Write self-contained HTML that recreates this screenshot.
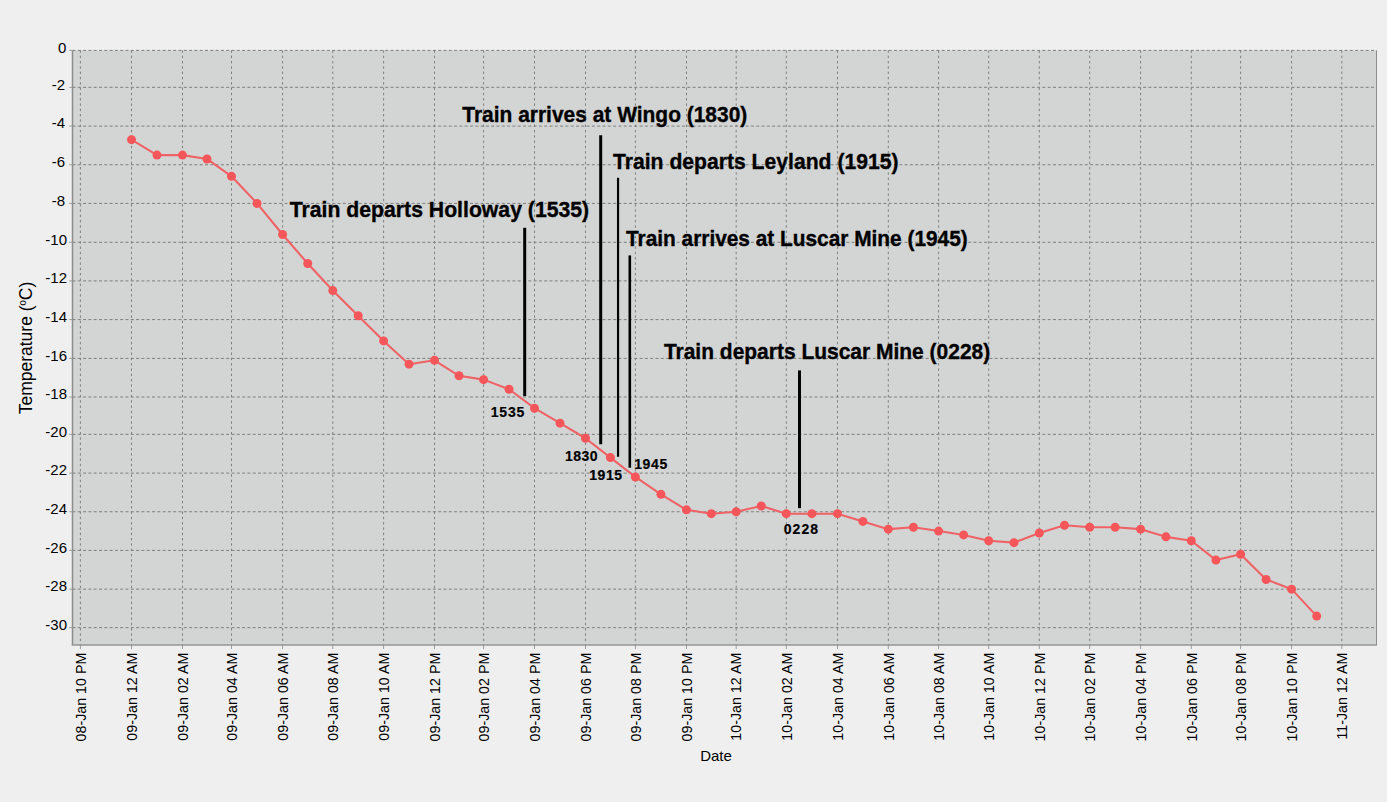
<!DOCTYPE html>
<html><head><meta charset="utf-8"><style>
html,body{margin:0;padding:0;background:#efefef;}
svg{display:block;}
text{font-family:"Liberation Sans",sans-serif;fill:#000;}
.yt{font-size:15px;}
.xt{font-size:14.25px;}
.ax{font-size:15px;}
.ay{font-size:17.5px;}
.tt{font-size:21.3px;font-weight:bold;stroke:#000;stroke-width:0.35px;}
.st{font-size:14px;font-weight:bold;stroke:#000;stroke-width:0.2px;}
</style></head><body>
<svg width="1387" height="802" viewBox="0 0 1387 802">
<rect x="0" y="0" width="1387" height="802" fill="#efefef"/>
<rect x="72.5" y="50.4" width="1304.0" height="594.6" fill="#d3d5d4"/>
<line x1="72.5" y1="50.40" x2="1376.5" y2="50.40" stroke="#7e7e7e" stroke-width="1" stroke-dasharray="3 2.3"/>
<line x1="72.5" y1="87.30" x2="1376.5" y2="87.30" stroke="#7e7e7e" stroke-width="1" stroke-dasharray="3 2.3"/>
<line x1="72.5" y1="126.10" x2="1376.5" y2="126.10" stroke="#7e7e7e" stroke-width="1" stroke-dasharray="3 2.3"/>
<line x1="72.5" y1="164.75" x2="1376.5" y2="164.75" stroke="#7e7e7e" stroke-width="1" stroke-dasharray="3 2.3"/>
<line x1="72.5" y1="203.40" x2="1376.5" y2="203.40" stroke="#7e7e7e" stroke-width="1" stroke-dasharray="3 2.3"/>
<line x1="72.5" y1="242.30" x2="1376.5" y2="242.30" stroke="#7e7e7e" stroke-width="1" stroke-dasharray="3 2.3"/>
<line x1="72.5" y1="280.90" x2="1376.5" y2="280.90" stroke="#7e7e7e" stroke-width="1" stroke-dasharray="3 2.3"/>
<line x1="72.5" y1="319.60" x2="1376.5" y2="319.60" stroke="#7e7e7e" stroke-width="1" stroke-dasharray="3 2.3"/>
<line x1="72.5" y1="358.40" x2="1376.5" y2="358.40" stroke="#7e7e7e" stroke-width="1" stroke-dasharray="3 2.3"/>
<line x1="72.5" y1="397.00" x2="1376.5" y2="397.00" stroke="#7e7e7e" stroke-width="1" stroke-dasharray="3 2.3"/>
<line x1="72.5" y1="434.35" x2="1376.5" y2="434.35" stroke="#7e7e7e" stroke-width="1" stroke-dasharray="3 2.3"/>
<line x1="72.5" y1="473.10" x2="1376.5" y2="473.10" stroke="#7e7e7e" stroke-width="1" stroke-dasharray="3 2.3"/>
<line x1="72.5" y1="511.75" x2="1376.5" y2="511.75" stroke="#7e7e7e" stroke-width="1" stroke-dasharray="3 2.3"/>
<line x1="72.5" y1="550.40" x2="1376.5" y2="550.40" stroke="#7e7e7e" stroke-width="1" stroke-dasharray="3 2.3"/>
<line x1="72.5" y1="589.15" x2="1376.5" y2="589.15" stroke="#7e7e7e" stroke-width="1" stroke-dasharray="3 2.3"/>
<line x1="72.5" y1="627.65" x2="1376.5" y2="627.65" stroke="#7e7e7e" stroke-width="1" stroke-dasharray="3 2.3"/>
<line x1="80.40" y1="50.4" x2="80.40" y2="645" stroke="#7e7e7e" stroke-width="1" stroke-dasharray="2.4 2.9"/>
<line x1="131.50" y1="50.4" x2="131.50" y2="645" stroke="#7e7e7e" stroke-width="1" stroke-dasharray="2.4 2.9"/>
<line x1="182.50" y1="50.4" x2="182.50" y2="645" stroke="#7e7e7e" stroke-width="1" stroke-dasharray="2.4 2.9"/>
<line x1="231.50" y1="50.4" x2="231.50" y2="645" stroke="#7e7e7e" stroke-width="1" stroke-dasharray="2.4 2.9"/>
<line x1="282.60" y1="50.4" x2="282.60" y2="645" stroke="#7e7e7e" stroke-width="1" stroke-dasharray="2.4 2.9"/>
<line x1="332.80" y1="50.4" x2="332.80" y2="645" stroke="#7e7e7e" stroke-width="1" stroke-dasharray="2.4 2.9"/>
<line x1="383.60" y1="50.4" x2="383.60" y2="645" stroke="#7e7e7e" stroke-width="1" stroke-dasharray="2.4 2.9"/>
<line x1="434.50" y1="50.4" x2="434.50" y2="645" stroke="#7e7e7e" stroke-width="1" stroke-dasharray="2.4 2.9"/>
<line x1="483.60" y1="50.4" x2="483.60" y2="645" stroke="#7e7e7e" stroke-width="1" stroke-dasharray="2.4 2.9"/>
<line x1="534.50" y1="50.4" x2="534.50" y2="645" stroke="#7e7e7e" stroke-width="1" stroke-dasharray="2.4 2.9"/>
<line x1="585.50" y1="50.4" x2="585.50" y2="645" stroke="#7e7e7e" stroke-width="1" stroke-dasharray="2.4 2.9"/>
<line x1="635.40" y1="50.4" x2="635.40" y2="645" stroke="#7e7e7e" stroke-width="1" stroke-dasharray="2.4 2.9"/>
<line x1="686.50" y1="50.4" x2="686.50" y2="645" stroke="#7e7e7e" stroke-width="1" stroke-dasharray="2.4 2.9"/>
<line x1="736.20" y1="50.4" x2="736.20" y2="645" stroke="#7e7e7e" stroke-width="1" stroke-dasharray="2.4 2.9"/>
<line x1="786.30" y1="50.4" x2="786.30" y2="645" stroke="#7e7e7e" stroke-width="1" stroke-dasharray="2.4 2.9"/>
<line x1="837.50" y1="50.4" x2="837.50" y2="645" stroke="#7e7e7e" stroke-width="1" stroke-dasharray="2.4 2.9"/>
<line x1="888.30" y1="50.4" x2="888.30" y2="645" stroke="#7e7e7e" stroke-width="1" stroke-dasharray="2.4 2.9"/>
<line x1="938.60" y1="50.4" x2="938.60" y2="645" stroke="#7e7e7e" stroke-width="1" stroke-dasharray="2.4 2.9"/>
<line x1="988.70" y1="50.4" x2="988.70" y2="645" stroke="#7e7e7e" stroke-width="1" stroke-dasharray="2.4 2.9"/>
<line x1="1039.30" y1="50.4" x2="1039.30" y2="645" stroke="#7e7e7e" stroke-width="1" stroke-dasharray="2.4 2.9"/>
<line x1="1089.70" y1="50.4" x2="1089.70" y2="645" stroke="#7e7e7e" stroke-width="1" stroke-dasharray="2.4 2.9"/>
<line x1="1140.60" y1="50.4" x2="1140.60" y2="645" stroke="#7e7e7e" stroke-width="1" stroke-dasharray="2.4 2.9"/>
<line x1="1191.30" y1="50.4" x2="1191.30" y2="645" stroke="#7e7e7e" stroke-width="1" stroke-dasharray="2.4 2.9"/>
<line x1="1240.60" y1="50.4" x2="1240.60" y2="645" stroke="#7e7e7e" stroke-width="1" stroke-dasharray="2.4 2.9"/>
<line x1="1291.60" y1="50.4" x2="1291.60" y2="645" stroke="#7e7e7e" stroke-width="1" stroke-dasharray="2.4 2.9"/>
<line x1="1341.80" y1="50.4" x2="1341.80" y2="645" stroke="#7e7e7e" stroke-width="1" stroke-dasharray="2.4 2.9"/>
<line x1="72.5" y1="50.4" x2="72.5" y2="645" stroke="#8c8c8c" stroke-width="1.5"/>
<line x1="1376.5" y1="50.4" x2="1376.5" y2="645" stroke="#8c8c8c" stroke-width="1"/>
<line x1="71.75" y1="645" x2="1377.0" y2="645" stroke="#959595" stroke-width="1.5"/>
<line x1="80.40" y1="645" x2="80.40" y2="649" stroke="#9a9a9a" stroke-width="1"/>
<line x1="131.50" y1="645" x2="131.50" y2="649" stroke="#9a9a9a" stroke-width="1"/>
<line x1="182.50" y1="645" x2="182.50" y2="649" stroke="#9a9a9a" stroke-width="1"/>
<line x1="231.50" y1="645" x2="231.50" y2="649" stroke="#9a9a9a" stroke-width="1"/>
<line x1="282.60" y1="645" x2="282.60" y2="649" stroke="#9a9a9a" stroke-width="1"/>
<line x1="332.80" y1="645" x2="332.80" y2="649" stroke="#9a9a9a" stroke-width="1"/>
<line x1="383.60" y1="645" x2="383.60" y2="649" stroke="#9a9a9a" stroke-width="1"/>
<line x1="434.50" y1="645" x2="434.50" y2="649" stroke="#9a9a9a" stroke-width="1"/>
<line x1="483.60" y1="645" x2="483.60" y2="649" stroke="#9a9a9a" stroke-width="1"/>
<line x1="534.50" y1="645" x2="534.50" y2="649" stroke="#9a9a9a" stroke-width="1"/>
<line x1="585.50" y1="645" x2="585.50" y2="649" stroke="#9a9a9a" stroke-width="1"/>
<line x1="635.40" y1="645" x2="635.40" y2="649" stroke="#9a9a9a" stroke-width="1"/>
<line x1="686.50" y1="645" x2="686.50" y2="649" stroke="#9a9a9a" stroke-width="1"/>
<line x1="736.20" y1="645" x2="736.20" y2="649" stroke="#9a9a9a" stroke-width="1"/>
<line x1="786.30" y1="645" x2="786.30" y2="649" stroke="#9a9a9a" stroke-width="1"/>
<line x1="837.50" y1="645" x2="837.50" y2="649" stroke="#9a9a9a" stroke-width="1"/>
<line x1="888.30" y1="645" x2="888.30" y2="649" stroke="#9a9a9a" stroke-width="1"/>
<line x1="938.60" y1="645" x2="938.60" y2="649" stroke="#9a9a9a" stroke-width="1"/>
<line x1="988.70" y1="645" x2="988.70" y2="649" stroke="#9a9a9a" stroke-width="1"/>
<line x1="1039.30" y1="645" x2="1039.30" y2="649" stroke="#9a9a9a" stroke-width="1"/>
<line x1="1089.70" y1="645" x2="1089.70" y2="649" stroke="#9a9a9a" stroke-width="1"/>
<line x1="1140.60" y1="645" x2="1140.60" y2="649" stroke="#9a9a9a" stroke-width="1"/>
<line x1="1191.30" y1="645" x2="1191.30" y2="649" stroke="#9a9a9a" stroke-width="1"/>
<line x1="1240.60" y1="645" x2="1240.60" y2="649" stroke="#9a9a9a" stroke-width="1"/>
<line x1="1291.60" y1="645" x2="1291.60" y2="649" stroke="#9a9a9a" stroke-width="1"/>
<line x1="1341.80" y1="645" x2="1341.80" y2="649" stroke="#9a9a9a" stroke-width="1"/>
<line x1="69.2" y1="50.40" x2="72.5" y2="50.40" stroke="#9a9a9a" stroke-width="1"/>
<line x1="69.2" y1="87.30" x2="72.5" y2="87.30" stroke="#9a9a9a" stroke-width="1"/>
<line x1="69.2" y1="126.10" x2="72.5" y2="126.10" stroke="#9a9a9a" stroke-width="1"/>
<line x1="69.2" y1="164.75" x2="72.5" y2="164.75" stroke="#9a9a9a" stroke-width="1"/>
<line x1="69.2" y1="203.40" x2="72.5" y2="203.40" stroke="#9a9a9a" stroke-width="1"/>
<line x1="69.2" y1="242.30" x2="72.5" y2="242.30" stroke="#9a9a9a" stroke-width="1"/>
<line x1="69.2" y1="280.90" x2="72.5" y2="280.90" stroke="#9a9a9a" stroke-width="1"/>
<line x1="69.2" y1="319.60" x2="72.5" y2="319.60" stroke="#9a9a9a" stroke-width="1"/>
<line x1="69.2" y1="358.40" x2="72.5" y2="358.40" stroke="#9a9a9a" stroke-width="1"/>
<line x1="69.2" y1="397.00" x2="72.5" y2="397.00" stroke="#9a9a9a" stroke-width="1"/>
<line x1="69.2" y1="434.35" x2="72.5" y2="434.35" stroke="#9a9a9a" stroke-width="1"/>
<line x1="69.2" y1="473.10" x2="72.5" y2="473.10" stroke="#9a9a9a" stroke-width="1"/>
<line x1="69.2" y1="511.75" x2="72.5" y2="511.75" stroke="#9a9a9a" stroke-width="1"/>
<line x1="69.2" y1="550.40" x2="72.5" y2="550.40" stroke="#9a9a9a" stroke-width="1"/>
<line x1="69.2" y1="589.15" x2="72.5" y2="589.15" stroke="#9a9a9a" stroke-width="1"/>
<line x1="69.2" y1="627.65" x2="72.5" y2="627.65" stroke="#9a9a9a" stroke-width="1"/>
<polyline points="131.50,139.63 157.00,155.09 182.50,155.09 207.00,158.95 231.50,176.34 257.05,203.40 282.60,234.52 307.70,263.53 332.80,290.57 358.20,315.73 383.60,340.94 409.05,364.19 434.50,360.33 459.05,375.77 483.60,379.63 509.05,389.28 534.50,408.21 560.00,423.14 585.50,438.23 610.45,457.60 635.40,476.97 660.95,494.36 686.50,509.82 711.35,513.68 736.20,511.75 761.25,505.95 786.30,513.68 811.90,513.68 837.50,513.68 862.90,521.41 888.30,529.14 913.45,527.21 938.60,531.08 963.65,534.94 988.70,540.74 1014.00,542.67 1039.30,533.01 1064.50,525.28 1089.70,527.21 1115.15,527.21 1140.60,529.14 1165.95,536.87 1191.30,540.74 1215.95,560.09 1240.60,554.27 1266.10,579.46 1291.60,589.15 1316.70,616.10" fill="none" stroke="#ef6266" stroke-width="2.1" stroke-linejoin="round"/>
<circle cx="131.50" cy="139.63" r="4.5" fill="#f5565a"/>
<circle cx="157.00" cy="155.09" r="4.5" fill="#f5565a"/>
<circle cx="182.50" cy="155.09" r="4.5" fill="#f5565a"/>
<circle cx="207.00" cy="158.95" r="4.5" fill="#f5565a"/>
<circle cx="231.50" cy="176.34" r="4.5" fill="#f5565a"/>
<circle cx="257.05" cy="203.40" r="4.5" fill="#f5565a"/>
<circle cx="282.60" cy="234.52" r="4.5" fill="#f5565a"/>
<circle cx="307.70" cy="263.53" r="4.5" fill="#f5565a"/>
<circle cx="332.80" cy="290.57" r="4.5" fill="#f5565a"/>
<circle cx="358.20" cy="315.73" r="4.5" fill="#f5565a"/>
<circle cx="383.60" cy="340.94" r="4.5" fill="#f5565a"/>
<circle cx="409.05" cy="364.19" r="4.5" fill="#f5565a"/>
<circle cx="434.50" cy="360.33" r="4.5" fill="#f5565a"/>
<circle cx="459.05" cy="375.77" r="4.5" fill="#f5565a"/>
<circle cx="483.60" cy="379.63" r="4.5" fill="#f5565a"/>
<circle cx="509.05" cy="389.28" r="4.5" fill="#f5565a"/>
<circle cx="534.50" cy="408.21" r="4.5" fill="#f5565a"/>
<circle cx="560.00" cy="423.14" r="4.5" fill="#f5565a"/>
<circle cx="585.50" cy="438.23" r="4.5" fill="#f5565a"/>
<circle cx="610.45" cy="457.60" r="4.5" fill="#f5565a"/>
<circle cx="635.40" cy="476.97" r="4.5" fill="#f5565a"/>
<circle cx="660.95" cy="494.36" r="4.5" fill="#f5565a"/>
<circle cx="686.50" cy="509.82" r="4.5" fill="#f5565a"/>
<circle cx="711.35" cy="513.68" r="4.5" fill="#f5565a"/>
<circle cx="736.20" cy="511.75" r="4.5" fill="#f5565a"/>
<circle cx="761.25" cy="505.95" r="4.5" fill="#f5565a"/>
<circle cx="786.30" cy="513.68" r="4.5" fill="#f5565a"/>
<circle cx="811.90" cy="513.68" r="4.5" fill="#f5565a"/>
<circle cx="837.50" cy="513.68" r="4.5" fill="#f5565a"/>
<circle cx="862.90" cy="521.41" r="4.5" fill="#f5565a"/>
<circle cx="888.30" cy="529.14" r="4.5" fill="#f5565a"/>
<circle cx="913.45" cy="527.21" r="4.5" fill="#f5565a"/>
<circle cx="938.60" cy="531.08" r="4.5" fill="#f5565a"/>
<circle cx="963.65" cy="534.94" r="4.5" fill="#f5565a"/>
<circle cx="988.70" cy="540.74" r="4.5" fill="#f5565a"/>
<circle cx="1014.00" cy="542.67" r="4.5" fill="#f5565a"/>
<circle cx="1039.30" cy="533.01" r="4.5" fill="#f5565a"/>
<circle cx="1064.50" cy="525.28" r="4.5" fill="#f5565a"/>
<circle cx="1089.70" cy="527.21" r="4.5" fill="#f5565a"/>
<circle cx="1115.15" cy="527.21" r="4.5" fill="#f5565a"/>
<circle cx="1140.60" cy="529.14" r="4.5" fill="#f5565a"/>
<circle cx="1165.95" cy="536.87" r="4.5" fill="#f5565a"/>
<circle cx="1191.30" cy="540.74" r="4.5" fill="#f5565a"/>
<circle cx="1215.95" cy="560.09" r="4.5" fill="#f5565a"/>
<circle cx="1240.60" cy="554.27" r="4.5" fill="#f5565a"/>
<circle cx="1266.10" cy="579.46" r="4.5" fill="#f5565a"/>
<circle cx="1291.60" cy="589.15" r="4.5" fill="#f5565a"/>
<circle cx="1316.70" cy="616.10" r="4.5" fill="#f5565a"/>
<line x1="524.7" y1="227.8" x2="524.7" y2="396.1" stroke="#000" stroke-width="3"/>
<line x1="600.7" y1="135.2" x2="600.7" y2="444.3" stroke="#000" stroke-width="3"/>
<line x1="618.05" y1="177.8" x2="618.05" y2="456.7" stroke="#000" stroke-width="2.2"/>
<line x1="629.8" y1="255.4" x2="629.8" y2="467.7" stroke="#000" stroke-width="2.6"/>
<line x1="799.5" y1="370.4" x2="799.5" y2="508.2" stroke="#000" stroke-width="3"/>
<text x="66.3" y="52.70" class="yt" text-anchor="end">0</text>
<text x="65.2" y="89.60" class="yt" text-anchor="end">-2</text>
<text x="65.2" y="128.40" class="yt" text-anchor="end">-4</text>
<text x="65.2" y="167.05" class="yt" text-anchor="end">-6</text>
<text x="65.2" y="205.70" class="yt" text-anchor="end">-8</text>
<text x="67" y="244.60" class="yt" text-anchor="end">-10</text>
<text x="67" y="283.20" class="yt" text-anchor="end">-12</text>
<text x="67" y="321.90" class="yt" text-anchor="end">-14</text>
<text x="67" y="360.70" class="yt" text-anchor="end">-16</text>
<text x="67" y="399.30" class="yt" text-anchor="end">-18</text>
<text x="67" y="436.65" class="yt" text-anchor="end">-20</text>
<text x="67" y="475.40" class="yt" text-anchor="end">-22</text>
<text x="67" y="514.05" class="yt" text-anchor="end">-24</text>
<text x="67" y="552.70" class="yt" text-anchor="end">-26</text>
<text x="67" y="591.45" class="yt" text-anchor="end">-28</text>
<text x="67" y="629.95" class="yt" text-anchor="end">-30</text>
<text transform="translate(85.60,652.7) rotate(-90)" class="xt" text-anchor="end">08-Jan 10 PM</text>
<text transform="translate(136.70,652.7) rotate(-90)" class="xt" text-anchor="end">09-Jan 12 AM</text>
<text transform="translate(187.70,652.7) rotate(-90)" class="xt" text-anchor="end">09-Jan 02 AM</text>
<text transform="translate(236.70,652.7) rotate(-90)" class="xt" text-anchor="end">09-Jan 04 AM</text>
<text transform="translate(287.80,652.7) rotate(-90)" class="xt" text-anchor="end">09-Jan 06 AM</text>
<text transform="translate(338.00,652.7) rotate(-90)" class="xt" text-anchor="end">09-Jan 08 AM</text>
<text transform="translate(388.80,652.7) rotate(-90)" class="xt" text-anchor="end">09-Jan 10 AM</text>
<text transform="translate(439.70,652.7) rotate(-90)" class="xt" text-anchor="end">09-Jan 12 PM</text>
<text transform="translate(488.80,652.7) rotate(-90)" class="xt" text-anchor="end">09-Jan 02 PM</text>
<text transform="translate(539.70,652.7) rotate(-90)" class="xt" text-anchor="end">09-Jan 04 PM</text>
<text transform="translate(590.70,652.7) rotate(-90)" class="xt" text-anchor="end">09-Jan 06 PM</text>
<text transform="translate(640.60,652.7) rotate(-90)" class="xt" text-anchor="end">09-Jan 08 PM</text>
<text transform="translate(691.70,652.7) rotate(-90)" class="xt" text-anchor="end">09-Jan 10 PM</text>
<text transform="translate(741.40,652.7) rotate(-90)" class="xt" text-anchor="end">10-Jan 12 AM</text>
<text transform="translate(791.50,652.7) rotate(-90)" class="xt" text-anchor="end">10-Jan 02 AM</text>
<text transform="translate(842.70,652.7) rotate(-90)" class="xt" text-anchor="end">10-Jan 04 AM</text>
<text transform="translate(893.50,652.7) rotate(-90)" class="xt" text-anchor="end">10-Jan 06 AM</text>
<text transform="translate(943.80,652.7) rotate(-90)" class="xt" text-anchor="end">10-Jan 08 AM</text>
<text transform="translate(993.90,652.7) rotate(-90)" class="xt" text-anchor="end">10-Jan 10 AM</text>
<text transform="translate(1044.50,652.7) rotate(-90)" class="xt" text-anchor="end">10-Jan 12 PM</text>
<text transform="translate(1094.90,652.7) rotate(-90)" class="xt" text-anchor="end">10-Jan 02 PM</text>
<text transform="translate(1145.80,652.7) rotate(-90)" class="xt" text-anchor="end">10-Jan 04 PM</text>
<text transform="translate(1196.50,652.7) rotate(-90)" class="xt" text-anchor="end">10-Jan 06 PM</text>
<text transform="translate(1245.80,652.7) rotate(-90)" class="xt" text-anchor="end">10-Jan 08 PM</text>
<text transform="translate(1296.80,652.7) rotate(-90)" class="xt" text-anchor="end">10-Jan 10 PM</text>
<text transform="translate(1347.00,652.7) rotate(-90)" class="xt" text-anchor="end">11-Jan 12 AM</text>
<text x="716" y="760.9" class="ax" text-anchor="middle">Date</text>
<text transform="translate(31.8,348) rotate(-90)" class="ay" text-anchor="middle">Temperature (<tspan font-size="14.5px" dy="-0.5">º</tspan><tspan dy="0.5">C)</tspan></text>
<text x="289.7" y="216.5" class="tt" textLength="299.5" lengthAdjust="spacingAndGlyphs">Train departs Holloway (1535)</text>
<text x="462.3" y="121.8" class="tt" textLength="285.0" lengthAdjust="spacingAndGlyphs">Train arrives at Wingo (1830)</text>
<text x="613.0" y="169.2" class="tt" textLength="285.5" lengthAdjust="spacingAndGlyphs">Train departs Leyland (1915)</text>
<text x="626.0" y="246.1" class="tt" textLength="341.7" lengthAdjust="spacingAndGlyphs">Train arrives at Luscar Mine (1945)</text>
<text x="663.9" y="359.0" class="tt" textLength="326.3" lengthAdjust="spacingAndGlyphs">Train departs Luscar Mine (0228)</text>
<text x="490.8" y="416.9" class="st" textLength="33.5" lengthAdjust="spacing">1535</text>
<text x="565.0" y="460.7" class="st" textLength="32.6" lengthAdjust="spacing">1830</text>
<text x="589.3" y="480.4" class="st" textLength="32.7" lengthAdjust="spacing">1915</text>
<text x="634.2" y="468.6" class="st" textLength="33.0" lengthAdjust="spacing">1945</text>
<text x="783.8" y="534.2" class="st" textLength="34.2" lengthAdjust="spacing">0228</text>
</svg>
</body></html>
